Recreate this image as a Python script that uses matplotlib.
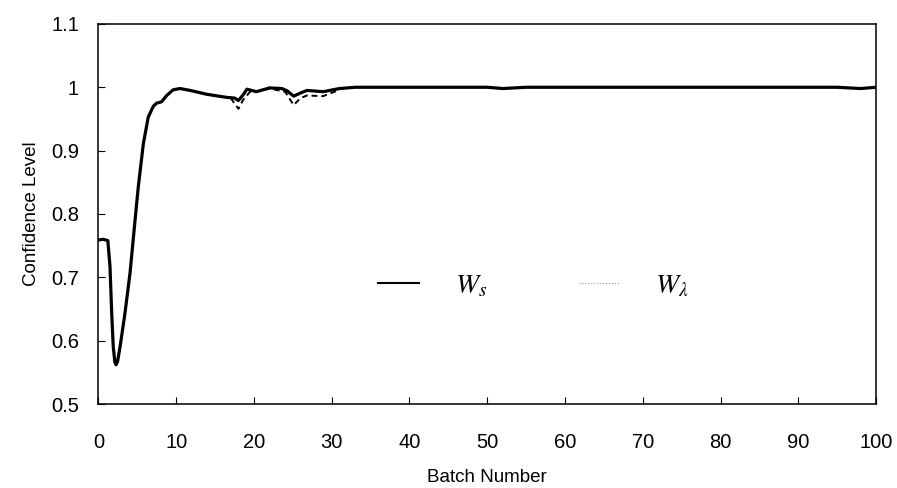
import matplotlib
matplotlib.use("Agg")
import matplotlib.pyplot as plt
from matplotlib.lines import Line2D

plt.rcParams["font.family"] = ["Liberation Sans", "DejaVu Sans"]
plt.rcParams["mathtext.fontset"] = "stix"

# W_s (solid)
batch_s = [0, 0.6, 1.2, 1.48, 1.7, 1.9, 2.1, 2.25, 2.45, 2.77, 3.4, 4.05, 4.7,
           5.12, 5.77, 6.4, 7.05, 7.48, 8.1, 8.77, 9.6, 10.5, 11.8, 13.9, 16.5,
           17.5, 18.0, 18.6, 19.1, 20.3, 22, 23.6, 24.3, 25.1, 26.0, 26.8,
           28.9, 31, 33, 40, 50, 52, 55, 60, 70, 80, 90, 95, 98, 100]
conf_s = [0.759, 0.760, 0.758, 0.717, 0.643, 0.590, 0.567, 0.562, 0.567,
          0.590, 0.643, 0.706, 0.790, 0.843, 0.911, 0.953, 0.970, 0.975, 0.977,
          0.987, 0.996, 0.998, 0.995, 0.989, 0.984, 0.983, 0.979, 0.988, 0.997,
          0.993, 0.999, 0.998, 0.994, 0.986, 0.991, 0.995, 0.993, 0.998, 1.0,
          1.0, 1.0, 0.998, 1.0, 1.0, 1.0, 1.0, 1.0, 1.0, 0.998, 1.0]

# W_lambda (dashed) only differs between batches 17 and 31
batch_l = [17, 18, 18.6, 19.5, 20.3, 22, 24, 25.1, 26, 26.8, 28.9, 31]
conf_l = [0.983, 0.966, 0.980, 0.993, 0.993, 0.998, 0.993, 0.972, 0.983, 0.987,
          0.986, 0.996]

fig = plt.figure(figsize=(8.97, 4.88), dpi=100)
ax = fig.add_axes([0.1098, 0.172, 0.8668, 0.779])

ax.plot(batch_l, conf_l, color="black", lw=1.4, ls=(0, (3, 2)))
ax.plot(batch_s, conf_s, color="black", lw=2.3, solid_capstyle="round",
        solid_joinstyle="round")

ax.set_xlim(0, 100)
ax.set_ylim(0.5, 1.1)
ax.set_xticks(range(0, 101, 10))
ax.set_yticks([0.5, 0.6, 0.7, 0.8, 0.9, 1.0, 1.1])
ax.set_yticklabels(["0.5", "0.6", "0.7", "0.8", "0.9", "1", "1.1"])
ax.tick_params(axis="both", direction="in", length=5, width=0.8, labelsize=14.5)
ax.tick_params(axis="y", pad=14)
ax.tick_params(axis="x", pad=21)
for s in ax.spines.values():
    s.set_linewidth(1.1)

ax.set_xlabel("Batch Number", fontsize=13.5, labelpad=12)
ax.set_ylabel("Confidence Level", fontsize=13.5, labelpad=8)

handles = [Line2D([], [], color="black", lw=1.5),
           Line2D([], [], color="#999999", lw=0.8, ls=":")]
ax.legend(handles, [r"$W_s$", r"$W_\lambda$"], loc="center left",
          bbox_to_anchor=(0.342, 0.31), ncol=2, frameon=False, fontsize=20,
          handlelength=1.45, handletextpad=1.3, columnspacing=3.3, borderpad=0)

fig.savefig("out.png", dpi=100)
